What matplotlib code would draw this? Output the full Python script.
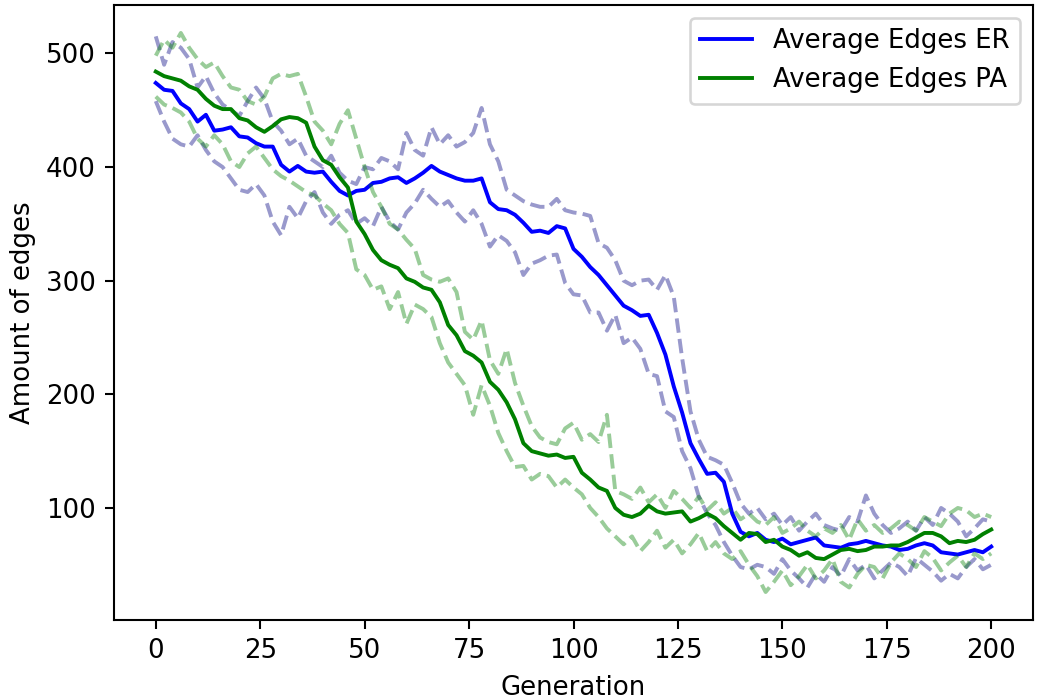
import numpy as np
import matplotlib
matplotlib.use("Agg")
import matplotlib.pyplot as plt

# generations sampled every 2 steps
gens = np.arange(0, 201, 2)

er_mean = [474, 468, 467, 456, 451, 440, 446, 432, 433, 435,
           427, 426, 421, 418, 418, 402, 396, 401, 396, 395,
           396, 387, 379, 375, 379, 380, 386, 387, 390, 391,
           386, 390, 395, 401, 396, 393, 390, 388, 388, 390,
           369, 363, 362, 358, 351, 343, 344, 342, 348, 346,
           328, 321, 312, 305, 296, 287, 278, 274, 269, 270,
           254, 235, 207, 184, 157, 143, 130, 131, 123, 95,
           79, 75, 78, 72, 70, 73, 68, 70, 72, 74,
           67, 66, 65, 68, 69, 71, 69, 67, 66, 63,
           64, 67, 69, 67, 61, 60, 59, 61, 63, 61, 66]

er_upper = [515, 490, 510, 505, 495, 470, 480, 465, 455, 450,
            445, 458, 470, 460, 440, 432, 420, 425, 410, 405,
            400, 410, 395, 388, 385, 400, 398, 408, 405, 398,
            430, 415, 410, 435, 420, 428, 418, 422, 430, 452,
            420, 405, 380, 375, 370, 367, 365, 365, 372, 362,
            360, 359, 357, 333, 329, 318, 300, 296, 300, 301,
            292, 305, 286, 232, 185, 160, 145, 142, 138, 122,
            104, 95, 100, 90, 95, 85, 92, 80, 88, 95,
            85, 82, 80, 92, 88, 111, 95, 85, 78, 82,
            88, 80, 92, 85, 100, 95, 88, 75, 82, 90, 88]

er_lower = [458, 440, 425, 420, 418, 428, 415, 405, 400, 390,
            380, 378, 385, 375, 352, 340, 365, 355, 370, 378,
            360, 350, 358, 362, 350, 355, 348, 365, 352, 345,
            360, 368, 380, 372, 365, 370, 360, 352, 362, 350,
            330, 340, 335, 325, 305, 315, 318, 322, 323, 298,
            288, 287, 272, 272, 256, 270, 245, 250, 240, 218,
            216, 185, 180, 150, 135, 110, 95, 85, 70, 58,
            48, 46, 50, 48, 42, 55, 45, 38, 30, 42,
            35, 48, 40, 55, 45, 50, 38, 45, 52, 48,
            40, 56, 50, 44, 36, 42, 38, 48, 55, 46, 50]

pa_mean = [484, 480, 478, 476, 471, 468, 460, 454, 451, 451,
           443, 441, 435, 431, 436, 442, 444, 443, 439, 418,
           406, 402, 391, 382, 352, 341, 327, 318, 314, 311,
           302, 299, 294, 292, 281, 261, 252, 238, 234, 228,
           211, 204, 193, 178, 157, 150, 148, 146, 147, 144,
           145, 131, 125, 118, 115, 100, 94, 92, 95, 102,
           97, 95, 96, 97, 88, 91, 95, 91, 84, 78,
           72, 78, 77, 70, 72, 66, 63, 58, 61, 56,
           55, 59, 63, 64, 62, 63, 66, 66, 67, 67,
           70, 74, 78, 78, 75, 69, 71, 70, 72, 77, 81]

pa_upper = [498, 512, 505, 518, 505, 495, 488, 492, 480, 470,
            468, 458, 455, 462, 478, 482, 480, 482, 462, 440,
            432, 420, 438, 450, 425, 400, 378, 365, 350, 345,
            336, 328, 305, 301, 299, 302, 290, 255, 248, 265,
            230, 218, 240, 210, 190, 172, 162, 158, 156, 170,
            175, 160, 165, 158, 182, 115, 112, 108, 118, 105,
            112, 100, 115, 108, 100, 110, 98, 105, 95, 100,
            90, 95, 88, 85, 92, 78, 82, 88, 80, 75,
            82, 78, 85, 72, 90, 80, 85, 78, 82, 88,
            85, 80, 92, 88, 84, 95, 100, 98, 92, 95, 92]

pa_lower = [462, 455, 452, 448, 440, 425, 418, 428, 420, 405,
            400, 412, 418, 408, 398, 392, 388, 383, 378, 375,
            368, 362, 350, 342, 310, 305, 292, 295, 275, 290,
            262, 279, 275, 268, 245, 228, 218, 208, 182, 208,
            190, 166, 150, 136, 137, 125, 130, 128, 118, 125,
            118, 112, 100, 92, 82, 75, 68, 75, 62, 70,
            80, 65, 72, 60, 68, 78, 62, 70, 60, 55,
            62, 50, 40, 26, 35, 45, 32, 40, 50, 38,
            45, 55, 35, 30, 42, 50, 48, 38, 52, 60,
            55, 48, 62, 56, 45, 52, 58, 48, 60, 55, 60]

dpi = 187
fig = plt.figure(figsize=(1040 / dpi, 700 / dpi), dpi=dpi)
ax = fig.add_axes([114 / 1040, 80 / 700, 919 / 1040, 615 / 700])

ax.plot(gens, er_mean, color="blue", label="Average Edges ER")
ax.plot(gens, er_upper, color="navy", linestyle="--", alpha=0.4)
ax.plot(gens, er_lower, color="navy", linestyle="--", alpha=0.4)
ax.plot(gens, pa_mean, color="green", label="Average Edges PA")
ax.plot(gens, pa_upper, color="green", linestyle="--", alpha=0.4)
ax.plot(gens, pa_lower, color="green", linestyle="--", alpha=0.4)

ax.set_xlabel("Generation")
ax.set_ylabel("Amount of edges")
ax.legend(loc="upper right")

fig.savefig("out.png", dpi=dpi)
